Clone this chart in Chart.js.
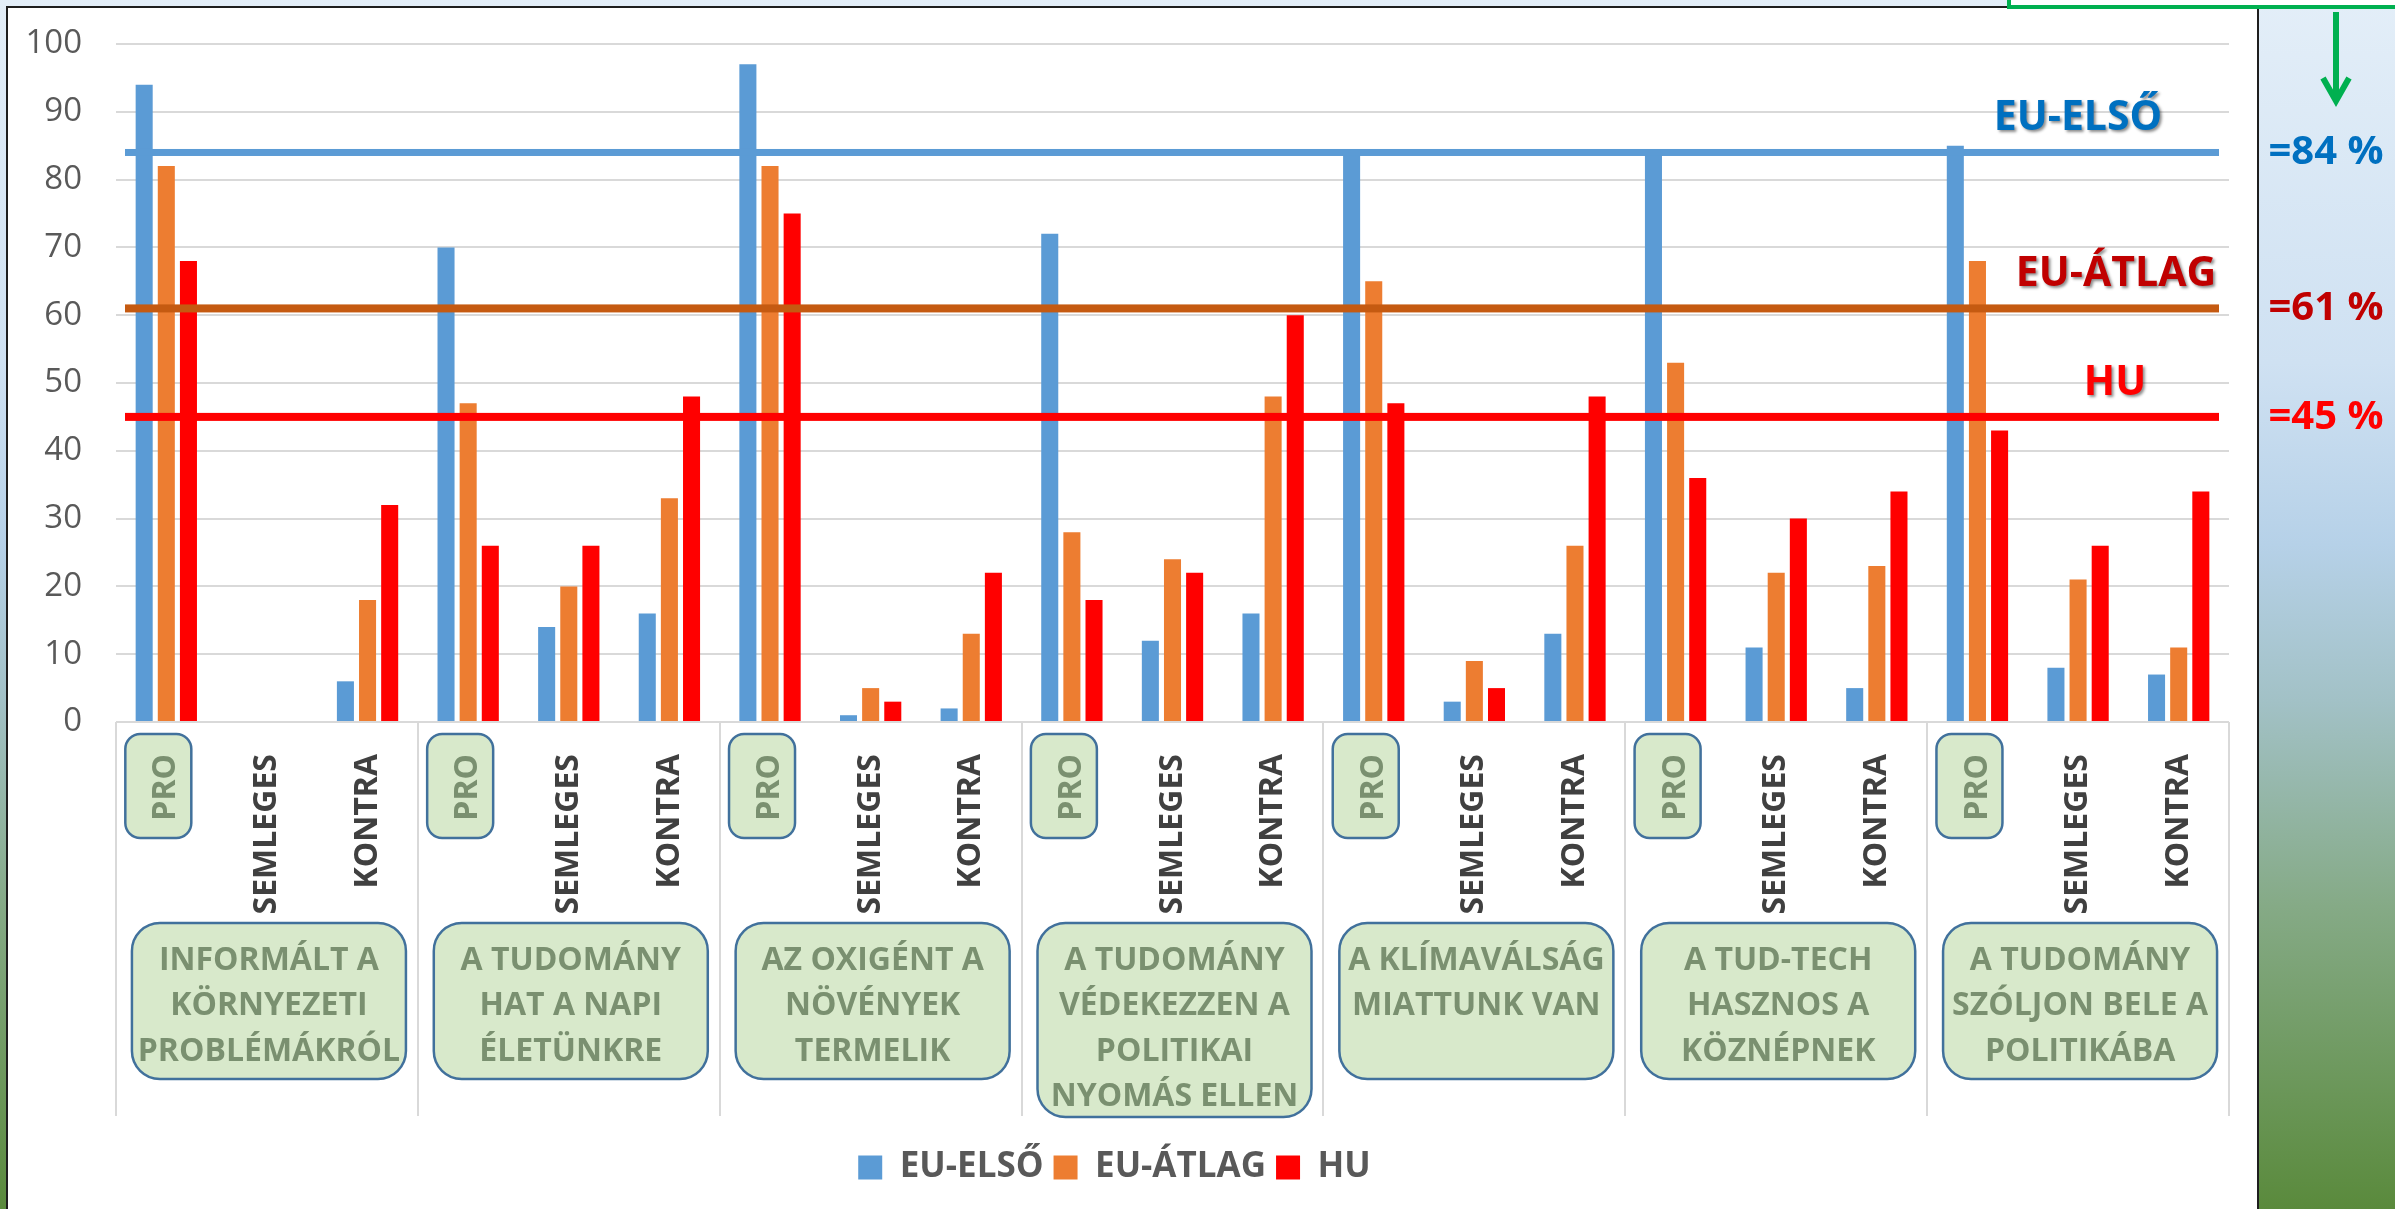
<!DOCTYPE html>
<html>
<head>
<meta charset="utf-8">
<script src="https://cdn.jsdelivr.net/npm/chart.js@4.4.1/dist/chart.umd.min.js"></script>
<style>
  html, body { margin: 0; padding: 0; overflow: hidden; background: #ffffff; }
  #wrap { width: 2395px; height: 1209px; }
  canvas { display: block; }
</style>
</head>
<body>
<div id="wrap"><canvas id="chart" width="2395" height="1209"></canvas></div>
<script>
// ---- data ----
const responses = ['PRO', 'SEMLEGES', 'KONTRA'];
const statements = [
  ['INFORMÁLT A', 'KÖRNYEZETI', 'PROBLÉMÁKRÓL'],
  ['A TUDOMÁNY', 'HAT A NAPI', 'ÉLETÜNKRE'],
  ['AZ OXIGÉNT A', 'NÖVÉNYEK', 'TERMELIK'],
  ['A TUDOMÁNY', 'VÉDEKEZZEN A', 'POLITIKAI', 'NYOMÁS ELLEN'],
  ['A KLÍMAVÁLSÁG', 'MIATTUNK VAN'],
  ['A TUD-TECH', 'HASZNOS A', 'KÖZNÉPNEK'],
  ['A TUDOMÁNY', 'SZÓLJON BELE A', 'POLITIKÁBA']
];
const categories = statements.flatMap(() => responses);
const seriesNames = ['EU-ELSŐ', 'EU-ÁTLAG', 'HU'];
const euFirst   = [94, 0, 6,   70, 14, 16,  97, 1, 2,   72, 12, 16,  84, 3, 13,  84, 11, 5,   85, 8, 7];
const euAverage = [82, 0, 18,  47, 20, 33,  82, 5, 13,  28, 24, 48,  65, 9, 26,  53, 22, 23,  68, 21, 11];
const hungary   = [68, 0, 32,  26, 26, 48,  75, 3, 22,  18, 22, 60,  47, 5, 48,  36, 30, 34,  43, 26, 34];
const overallValues = [84, 61, 45];
const overallLabels = ['=84 %', '=61 %', '=45 %'];
const yMin = 0, yMax = 100, yStep = 10;

// ---- styling ----
const FONT = '"Open Sans", "Noto Sans", sans-serif';
const barColors = ['#5B9BD5', '#ED7D31', '#FF0000'];
const lineColors = ['#5B9BD5', '#C55A11', '#FF0000'];
const lineWidths = [7, 8, 8];
const nameColors = ['#0070C0', '#C00000', '#FF0000'];
const nameCenters = [2078, 2116, 2115];
const sideCenter = 2326;
const boxFill = '#D8E9CB';
const boxStroke = '#41719C';
const boxText = '#7A9070';
const axisText = '#404040';

function roundedRect(ctx, x, y, w, h, r) {
  ctx.beginPath();
  ctx.moveTo(x + r, y);
  ctx.lineTo(x + w - r, y);
  ctx.arcTo(x + w, y, x + w, y + r, r);
  ctx.lineTo(x + w, y + h - r);
  ctx.arcTo(x + w, y + h, x + w - r, y + h, r);
  ctx.lineTo(x + r, y + h);
  ctx.arcTo(x, y + h, x, y + h - r, r);
  ctx.lineTo(x, y + r);
  ctx.arcTo(x, y, x + r, y, r);
  ctx.closePath();
}

// Slide backdrop, white panel, callout frame and arrow
const backdrop = {
  id: 'backdrop',
  beforeDraw(chart) {
    const { ctx, width, height } = chart;
    ctx.save();
    const g = ctx.createLinearGradient(0, 0, 0, height);
    g.addColorStop(0, '#E3EEF8');
    g.addColorStop(0.3, '#CFE1F2');
    g.addColorStop(0.45, '#B6D1E8');
    g.addColorStop(0.58, '#A2C1C6');
    g.addColorStop(0.75, '#85AA86');
    g.addColorStop(1, '#5A8A3C');
    ctx.fillStyle = g;
    ctx.fillRect(0, 0, width, height);

    ctx.fillStyle = '#FFFFFF';
    ctx.fillRect(7, 7, 2251, height);
    ctx.strokeStyle = '#1E1E1E';
    ctx.lineWidth = 2;
    ctx.beginPath();
    ctx.moveTo(7, height + 2);
    ctx.lineTo(7, 7);
    ctx.lineTo(2258, 7);
    ctx.lineTo(2258, height + 2);
    ctx.stroke();

    // callout frame (top right)
    ctx.fillStyle = '#FFFFFF';
    ctx.fillRect(2009, -10, 400, 17);
    ctx.strokeStyle = '#00B050';
    ctx.lineWidth = 4;
    ctx.strokeRect(2009, -10, 400, 17);

    // arrow
    ctx.lineWidth = 6;
    ctx.lineCap = 'butt';
    ctx.beginPath();
    ctx.moveTo(2336, 12);
    ctx.lineTo(2336, 100);
    ctx.stroke();
    ctx.lineJoin = 'miter';
    ctx.beginPath();
    ctx.moveTo(2323, 78);
    ctx.lineTo(2336, 101);
    ctx.lineTo(2349, 78);
    ctx.stroke();
    ctx.restore();
  }
};

// Two-level category axis: PRO badges, group dividers, statement boxes.
// Drawn before the scales so the tick labels sit on top of the badges.
const groupAxis = {
  id: 'groupAxis',
  beforeDraw(chart) {
    const { ctx, chartArea } = chart;
    const x = chart.scales.x;
    const per = responses.length;
    const catW = (x.right - x.left) / categories.length;
    ctx.save();
    // dividers
    ctx.strokeStyle = '#D9D9D9';
    ctx.lineWidth = 2;
    for (let g = 0; g <= statements.length; g++) {
      const xx = Math.round(x.left + g * per * catW);
      ctx.beginPath();
      ctx.moveTo(xx, chartArea.bottom);
      ctx.lineTo(xx, chartArea.bottom + 394);
      ctx.stroke();
    }
    // badges behind the PRO tick labels
    categories.forEach((c, i) => {
      if (c !== 'PRO') return;
      const cx = x.getPixelForValue(i) - 8;
      roundedRect(ctx, cx - 33, chartArea.bottom + 12, 66, 104, 15);
      ctx.fillStyle = boxFill;
      ctx.fill();
      ctx.strokeStyle = boxStroke;
      ctx.lineWidth = 2.5;
      ctx.stroke();
    });
    // statement boxes
    ctx.font = '700 32px ' + FONT;
    ctx.textAlign = 'center';
    ctx.textBaseline = 'alphabetic';
    statements.forEach((lines, g) => {
      const cx = x.getPixelForValue(g * per + 1) + 2;
      const top = chartArea.bottom + 201;
      const h = lines.length > 3 ? 194 : 156;
      roundedRect(ctx, cx - 137, top, 274, h, 28);
      ctx.fillStyle = boxFill;
      ctx.fill();
      ctx.strokeStyle = boxStroke;
      ctx.lineWidth = 2.5;
      ctx.stroke();
      ctx.fillStyle = boxText;
      lines.forEach((t, k) => ctx.fillText(t, cx, top + 47 + k * 45.3));
    });
    ctx.restore();
  }
};

// Overall average lines with their names and values
const overallLines = {
  id: 'overallLines',
  afterDatasetsDraw(chart) {
    const { ctx, chartArea } = chart;
    const y = chart.scales.y;
    ctx.save();
    overallValues.forEach((v, i) => {
      const py = y.getPixelForValue(v);
      ctx.fillStyle = lineColors[i];
      ctx.fillRect(chartArea.left + 9, py - lineWidths[i] / 2, chartArea.right - chartArea.left - 19, lineWidths[i]);
    });
    ctx.textAlign = 'center';
    ctx.textBaseline = 'alphabetic';
    overallValues.forEach((v, i) => {
      const py = y.getPixelForValue(v);
      ctx.save();
      ctx.shadowColor = 'rgba(0,0,0,0.45)';
      ctx.shadowOffsetX = 2;
      ctx.shadowOffsetY = 2;
      ctx.shadowBlur = 3;
      ctx.font = '700 41px ' + FONT;
      ctx.fillStyle = nameColors[i];
      ctx.fillText(seriesNames[i], nameCenters[i], py - 22);
      ctx.restore();
      ctx.font = '700 40px ' + FONT;
      ctx.fillStyle = nameColors[i];
      ctx.fillText(overallLabels[i], sideCenter, py + 12);
    });
    ctx.restore();
  }
};

function build() {
  const series = [euFirst, euAverage, hungary];
  new Chart(document.getElementById('chart'), {
    type: 'bar',
    data: {
      labels: categories,
      datasets: series.map((d, i) => ({
        label: seriesNames[i],
        data: d,
        backgroundColor: barColors[i],
        borderWidth: 0,
        categoryPercentage: 0.66,
        barPercentage: 0.77
      }))
    },
    options: {
      responsive: false,
      animation: false,
      devicePixelRatio: 1,
      layout: { padding: { left: 0, right: 166, top: 44, bottom: 14 } },
      plugins: {
        tooltip: { enabled: false },
        legend: {
          position: 'bottom',
          labels: {
            boxWidth: 24,
            boxHeight: 24,
            padding: 10,
            color: '#595959',
            font: { family: FONT, size: 35, weight: '700' }
          }
        }
      },
      scales: {
        x: {
          grid: { display: false },
          border: { display: false },
          ticks: {
            autoSkip: false,
            minRotation: 90,
            maxRotation: 90,
            padding: 24,
            color: (c) => (categories[c.index] === 'PRO' ? boxText : axisText),
            font: { family: FONT, size: 32, weight: '700' }
          },
          afterFit: (s) => { s.height = 418; }
        },
        y: {
          min: yMin,
          max: yMax,
          grid: { color: '#D9D9D9', lineWidth: 2, drawTicks: false },
          border: { display: false },
          ticks: {
            stepSize: yStep,
            padding: 34,
            color: '#595959',
            font: { family: FONT, size: 33, weight: '400' }
          },
          afterFit: (s) => {
            s.width = 116;
            s.paddingTop = 10;
            s.paddingBottom = 10;
          }
        }
      }
    },
    plugins: [backdrop, groupAxis, overallLines]
  });
}

const fontReady = document.fonts && document.fonts.load
  ? Promise.all([
      document.fonts.load('700 32px "Open Sans"'),
      document.fonts.load('400 33px "Open Sans"')
    ]).catch(() => null)
  : Promise.resolve();
fontReady.then(build);
</script>
</body>
</html>
